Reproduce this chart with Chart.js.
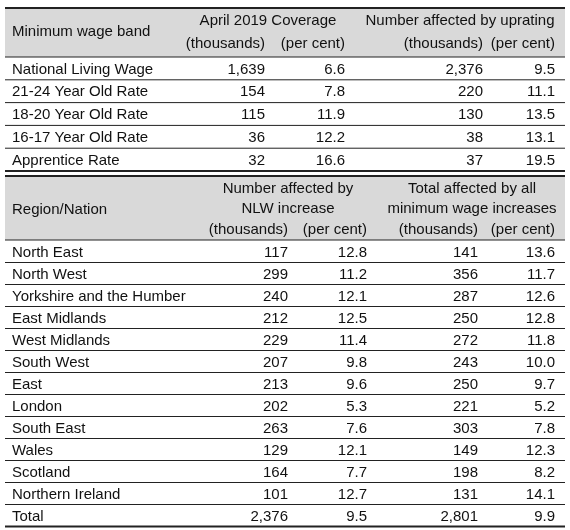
<!DOCTYPE html>
<html><head><meta charset="utf-8">
<script src="https://cdn.jsdelivr.net/npm/chart.js@4"></script>
<style>html,body{margin:0;padding:0;background:#fff}</style>
</head><body>
<canvas id="c" width="570" height="530"></canvas>
<script>
const bands = ["National Living Wage","21-24 Year Old Rate","18-20 Year Old Rate","16-17 Year Old Rate","Apprentice Rate"];
const coverageThousands = ["1,639","154","115","36","32"];
const coveragePct = ["6.6","7.8","11.9","12.2","16.6"];
const upratingThousands = ["2,376","220","130","38","37"];
const upratingPct = ["9.5","11.1","13.5","13.1","19.5"];

const regions = ["North East","North West","Yorkshire and the Humber","East Midlands","West Midlands","South West","East","London","South East","Wales","Scotland","Northern Ireland","Total"];
const nlwThousands = ["117","299","240","212","229","207","213","202","263","129","164","101","2,376"];
const nlwPct = ["12.8","11.2","12.1","12.5","11.4","9.8","9.6","5.3","7.6","12.1","7.7","12.7","9.5"];
const allThousands = ["141","356","287","250","272","243","250","221","303","149","198","131","2,801"];
const allPct = ["13.6","11.7","12.6","12.8","11.8","10.0","9.7","5.2","7.8","12.3","8.2","14.1","9.9"];

const FONT = '15px "Liberation Sans", Arial, sans-serif';
const tablePlugin = {
  id: 'table',
  afterDraw(chart) {
    const ctx = chart.ctx, xs = chart.scales.x, ys = chart.scales.y;
    const X = v => xs.getPixelForValue(v), Y = v => ys.getPixelForValue(v);
    ctx.save();
    ctx.font = FONT; ctx.fillStyle = '#111'; ctx.textBaseline = 'middle';
    function rect(x0,y0,x1,y1,c){ctx.fillStyle=c;ctx.fillRect(X(x0),Y(y0),X(x1)-X(x0),Y(y1)-Y(y0));}
    function line(y,w){ctx.fillStyle='#222';ctx.fillRect(X(5),Y(y)-w/2,X(565)-X(5),w);}
    function txt(s,x,y,al){ctx.fillStyle='#111';ctx.textAlign=al;ctx.fillText(s,X(x),Y(y));}
    // table 1
    rect(5,8,565,57,'#d9d9d9');
    txt('Minimum wage band',12,32,'left');
    txt('April 2019 Coverage',268,21,'center');
    txt('Number affected by uprating',460,21,'center');
    txt('(thousands)',265,44,'right');txt('(per cent)',345,44,'right');
    txt('(thousands)',483,44,'right');txt('(per cent)',555,44,'right');
    const r1 = 57, h1 = 22.8;
    bands.forEach((b,i)=>{
      const cy = r1 + h1*i + h1/2 + 1;
      txt(b,12,cy,'left');
      txt(coverageThousands[i],265,cy,'right');txt(coveragePct[i],345,cy,'right');
      txt(upratingThousands[i],483,cy,'right');txt(upratingPct[i],555,cy,'right');
      line(r1+h1*(i+1), i==bands.length-1?2:1);
    });
    line(8,2); line(57,1);
    // table 2
    rect(5,176,565,240,'#d9d9d9');
    line(176,2);
    txt('Region/Nation',12,210,'left');
    txt('Number affected by',288,189,'center');txt('NLW increase',288,209,'center');
    txt('Total affected by all',472,189,'center');txt('minimum wage increases',472,209,'center');
    txt('(thousands)',288,230,'right');txt('(per cent)',367,230,'right');
    txt('(thousands)',478,230,'right');txt('(per cent)',555,230,'right');
    line(240,1);
    const r2 = 240.5, h2 = 22;
    regions.forEach((r,i)=>{
      const cy = r2 + h2*i + h2/2 + 1;
      txt(r,12,cy,'left');
      txt(nlwThousands[i],288,cy,'right');txt(nlwPct[i],367,cy,'right');
      txt(allThousands[i],478,cy,'right');txt(allPct[i],555,cy,'right');
      line(r2+h2*(i+1), i==regions.length-1?2:1);
    });
    ctx.restore();
  }
};
new Chart(document.getElementById('c'), {
  type: 'scatter',
  data: { datasets: [{ data: [] }] },
  options: {
    responsive: false, animation: false,
    layout: { padding: 0 },
    plugins: { legend: { display: false }, tooltip: { enabled: false } },
    scales: {
      x: { type: 'linear', min: 0, max: 570, display: false },
      y: { type: 'linear', min: 0, max: 530, reverse: true, display: false }
    }
  },
  plugins: [tablePlugin]
});
</script>
</body></html>
